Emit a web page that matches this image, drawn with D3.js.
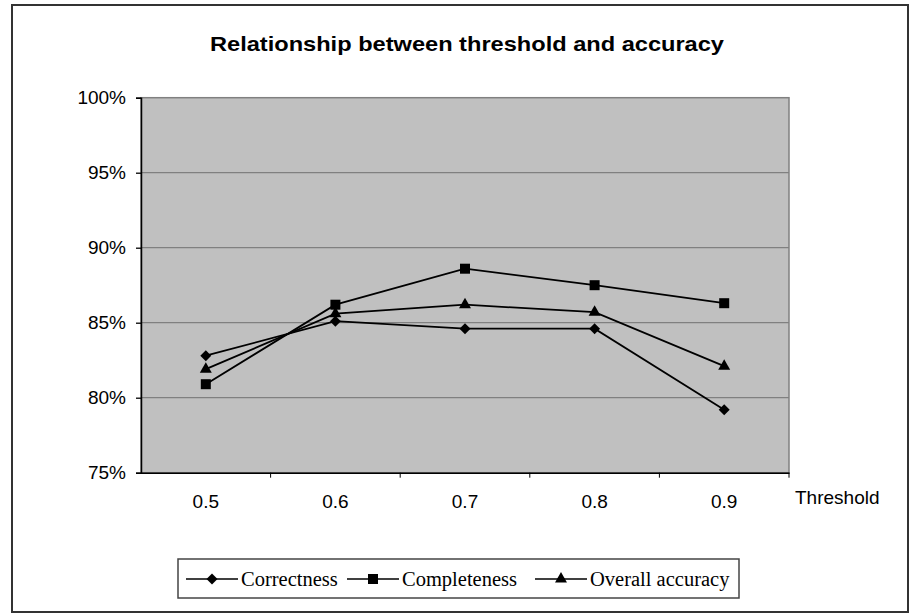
<!DOCTYPE html>
<html>
<head>
<meta charset="utf-8">
<script src="https://cdn.jsdelivr.net/npm/d3@7"></script>
<style>
  html, body { margin: 0; padding: 0; background: #fff; }
  svg { display: block; }
</style>
</head>
<body>
<svg id="chart" width="909" height="613"></svg>
<script>
// Threshold categories and accuracy values (%)
const thresholds = ["0.5", "0.6", "0.7", "0.8", "0.9"];
const correctness = [82.8, 85.1, 84.6, 84.6, 79.2];
const completeness = [80.9, 86.2, 88.6, 87.5, 86.3];
const overallAccuracy = [81.9, 85.6, 86.2, 85.7, 82.1];
const yTicks = [75, 80, 85, 90, 95, 100];
const seriesNames = ["Correctness", "Completeness", "Overall accuracy"];

// Diamond drawn as a square turned 45 degrees
const symbolRhombus = {
  draw(ctx, size) {
    const r = Math.sqrt(size / 2);
    ctx.moveTo(0, -r); ctx.lineTo(r, 0); ctx.lineTo(0, r); ctx.lineTo(-r, 0); ctx.closePath();
  }
};

const seriesList = [
  { name: seriesNames[0], values: correctness, symbol: symbolRhombus, size: 60 },
  { name: seriesNames[1], values: completeness, symbol: d3.symbolSquare, size: 100 },
  { name: seriesNames[2], values: overallAccuracy, symbol: d3.symbolTriangle, size: 62 }
];

const svg = d3.select("#chart");
const W = 909, H = 613;
const plot = { left: 141, right: 789, top: 97.7, bottom: 472.7 };
const sans = "Liberation Sans, Arial, sans-serif";

// Outer frame
svg.append("rect")
  .attr("x", 12).attr("y", 5)
  .attr("width", W - 12 - 1).attr("height", H - 5 - 1)
  .attr("fill", "#fff").attr("stroke", "#333").attr("stroke-width", 2);

// Title
svg.append("text")
  .attr("x", 467).attr("y", 51)
  .attr("text-anchor", "middle")
  .attr("font-family", sans)
  .attr("font-weight", "bold").attr("font-size", 21)
  .attr("textLength", 514).attr("lengthAdjust", "spacingAndGlyphs")
  .text("Relationship between threshold and accuracy");

const x = d3.scaleBand().domain(thresholds).range([plot.left, plot.right]);
const y = d3.scaleLinear().domain([75, 100]).range([plot.bottom, plot.top]);

// Plot area background
svg.append("rect")
  .attr("x", plot.left).attr("y", plot.top)
  .attr("width", plot.right - plot.left).attr("height", plot.bottom - plot.top)
  .attr("fill", "#c0c0c0").attr("stroke", "#808080").attr("stroke-width", 1.5);

// Horizontal gridlines
svg.append("g").selectAll("line")
  .data(yTicks.filter(t => t > 75 && t < 100))
  .join("line")
  .attr("x1", plot.left).attr("x2", plot.right)
  .attr("y1", d => y(d)).attr("y2", d => y(d))
  .attr("stroke", "#808080").attr("stroke-width", 1.3);

// Y axis
const yAxis = svg.append("g")
  .attr("transform", `translate(${plot.left},0)`)
  .call(d3.axisLeft(y).tickValues(yTicks).tickSize(5).tickPadding(10)
    .tickFormat(d => d + "%"));
yAxis.attr("font-size", null).attr("font-family", null);
yAxis.select(".domain").attr("stroke", "#000").attr("stroke-width", 1.5);
yAxis.selectAll(".tick line").attr("stroke", "#000").attr("stroke-width", 1.3);
yAxis.selectAll(".tick text")
  .attr("font-family", sans)
  .attr("font-size", 19).attr("fill", "#000");

// X axis: ticks sit between categories, labels at band centers
const xAxis = svg.append("g")
  .attr("transform", `translate(0,${plot.bottom})`)
  .call(d3.axisBottom(x).tickSize(0).tickPadding(22));
xAxis.attr("font-size", null).attr("font-family", null);
xAxis.select(".domain").attr("stroke", "#000").attr("stroke-width", 1.5);
xAxis.selectAll(".tick text")
  .attr("font-family", sans)
  .attr("font-size", 19).attr("fill", "#000");
xAxis.selectAll(".sep")
  .data(thresholds.slice(1).concat(["end"]))
  .join("line")
  .attr("class", "sep")
  .attr("x1", d => d === "end" ? plot.right : x(d))
  .attr("x2", d => d === "end" ? plot.right : x(d))
  .attr("y1", 0).attr("y2", 5)
  .attr("stroke", "#000").attr("stroke-width", 1);

// X axis title
svg.append("text")
  .attr("x", 795).attr("y", 504)
  .attr("font-family", sans)
  .attr("font-size", 19)
  .text("Threshold");

const cx = d => x(d) + x.bandwidth() / 2;
const line = d3.line().x(d => cx(d.t)).y(d => y(d.v));

// Series lines and markers
seriesList.forEach(s => {
  const pts = thresholds.map((t, i) => ({ t, v: s.values[i] }));
  svg.append("path")
    .datum(pts)
    .attr("d", line)
    .attr("fill", "none").attr("stroke", "#000").attr("stroke-width", 1.8);
  svg.append("g").selectAll("path")
    .data(pts)
    .join("path")
    .attr("transform", d => `translate(${cx(d.t)},${y(d.v)})`)
    .attr("d", d3.symbol().type(s.symbol).size(s.size))
    .attr("fill", "#000");
});

// Legend
const legend = svg.append("g");
legend.append("rect")
  .attr("x", 178).attr("y", 559).attr("width", 561).attr("height", 39)
  .attr("fill", "#fff").attr("stroke", "#444").attr("stroke-width", 1.5);
const legendX = [186, 347, 535];
seriesList.forEach((s, i) => {
  const lx = legendX[i], ly = 579;
  legend.append("line")
    .attr("x1", lx).attr("x2", lx + 52)
    .attr("y1", ly).attr("y2", ly)
    .attr("stroke", "#000").attr("stroke-width", 1.6);
  legend.append("path")
    .attr("transform", `translate(${lx + 26},${ly})`)
    .attr("d", d3.symbol().type(s.symbol).size(s.size))
    .attr("fill", "#000");
  legend.append("text")
    .attr("x", lx + 55).attr("y", ly + 7)
    .attr("font-family", "Liberation Serif, Times New Roman, serif")
    .attr("font-size", 20.5)
    .text(s.name);
});
</script>
</body>
</html>
